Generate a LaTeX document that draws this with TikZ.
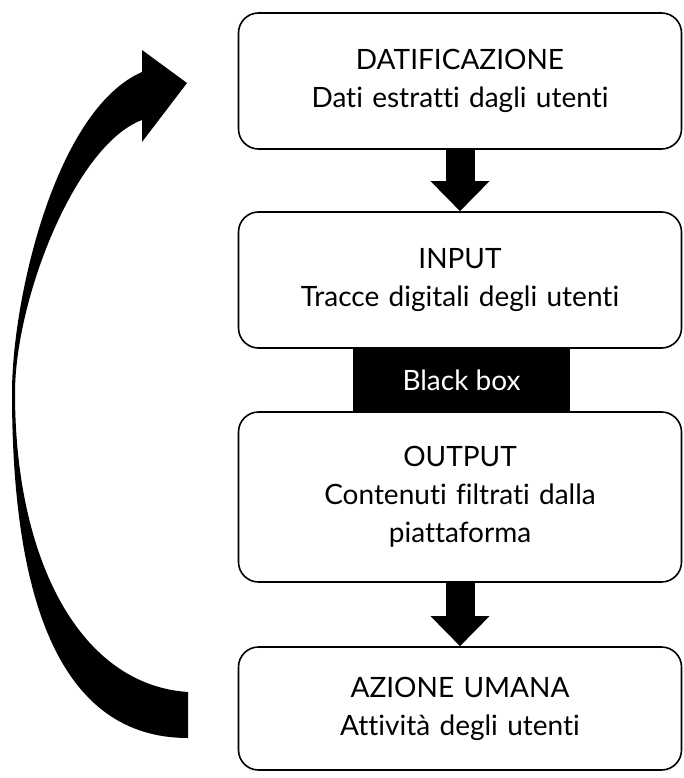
\documentclass[tikz,border=0pt]{standalone}
\usepackage{fontspec}
\setmainfont[Ligatures=NoCommon]{Lato}
\usetikzlibrary{arrows.meta,positioning}
\tikzset{
  every node/.style={
    font=\fontsize{28}{38}\selectfont
  },
  stage/.style={
    shape=rectangle,
    rounded corners=20pt,
    draw=black,
    line width=1.6pt,
    minimum width=443pt,
    text width=420pt,
    align=center
  },
  black box/.style={
    shape=rectangle,
    fill=black,
    text=white,
    minimum width=217pt,
    minimum height=64pt,
    inner sep=0pt
  },
  flow arrow/.style={
    line width=29pt,
    -{Triangle[width=57pt,length=30pt]}
  }
}
\begin{document}
\begin{tikzpicture}[x=1pt,y=-1pt]
    \useasboundingbox (0,0) rectangle (684,778);
    \node [stage, minimum height=136pt] (dat) at (460,81) {
      DATIFICAZIONE\\Dati estratti dagli utenti };
    \node [stage, minimum height=136pt] (inp) at (460,280) {
      INPUT\\Tracce digitali degli utenti };
    \node [black box] (bbox) at (461.5,380) { Black box };
    \node [stage, minimum height=170pt] (out) at (460,497) {
      OUTPUT\\Contenuti filtrati dalla\\piattaforma };
    \node [stage, minimum height=123pt] (azn) at (460,708.5) {
      AZIONE UMANA\\Attivit\`a degli utenti };
    \draw [flow arrow] (dat.south) -- (inp.north);
    \draw [flow arrow] (out.south) -- (azn.north);
    \fill (188,738) .. controls (60,738) and (12,600) .. (12,393)
      .. controls (12,300) and (55,110) .. (142,72)
      -- (142,50) -- (187,83) -- (142,142) -- (142,120)
      .. controls (75,145) and (15,300) .. (15,393)
      .. controls (15,560) and (80,685) .. (188,692) -- cycle;
\end{tikzpicture}
\end{document}
